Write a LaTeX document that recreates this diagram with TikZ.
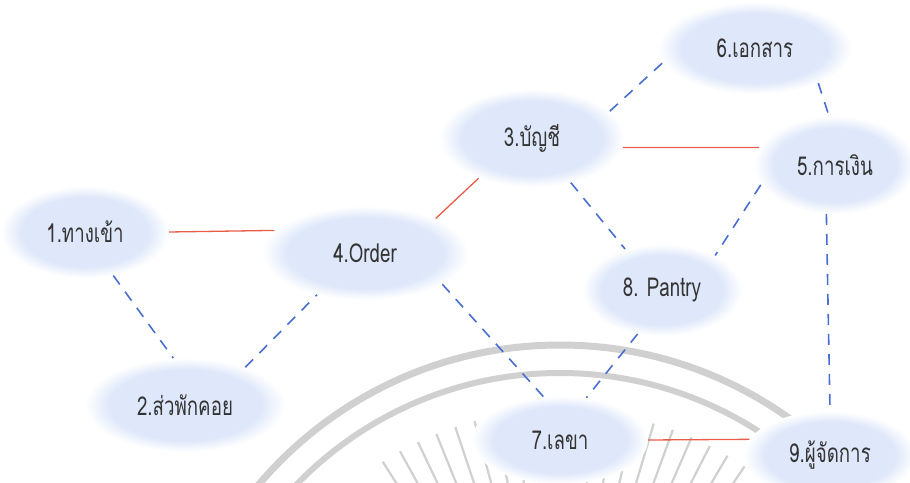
\documentclass[tikz,border=0pt]{standalone}
\usepackage{fontspec}
\newfontfamily\thaifont[Script=Thai,FakeStretch=0.72]{Loma}
\usetikzlibrary{positioning,shapes.geometric}
\definecolor{BlobLight}{RGB}{223,232,250}
\definecolor{LinkRed}{RGB}{232,92,72}
\definecolor{LinkBlue}{RGB}{72,110,210}
\definecolor{SealGray}{RGB}{208,208,208}
\pgfdeclareradialshading{blob}{\pgfpoint{0bp}{0bp}}{color(0bp)=(BlobLight); color(19bp)=(BlobLight); color(25bp)=(white); color(50bp)=(white)}
\tikzset{
  room/.style={
    ellipse,
    shade,
    shading=blob,
    minimum width=175pt,
    minimum height=88pt,
    inner sep=0pt,
    text=black!80,
    font=\thaifont\fontsize{26}{26}\selectfont
  },
  solidlink/.style={
    draw=LinkRed,
    line width=1.3pt
  },
  dashlink/.style={
    draw=LinkBlue,
    line width=1.6pt,
    dash pattern=on 11pt off 9pt
  },
  seal/.style={
    draw=SealGray,
    line width=7pt
  }
}

\begin{document}
\begin{tikzpicture}[x=1pt, y=1pt, on grid]
\useasboundingbox (0,0) rectangle (910,482);
% faint seal in the background
\begin{scope}
\clip (0,0) rectangle (910,482);
\draw[seal] (560,-258) circle (395);
\draw[seal, line width=6pt] (560,-258) circle (367);
\foreach \a in {56,59.5,...,124}
  \draw[SealGray, line width=2.2pt] (560,-258) ++(\a:230) -- ++(\a:100);
\end{scope}

\node[room, minimum width=168pt, minimum height=92pt] (entry) at (85,250) {1.ทางเข้า};
\node[room, minimum width=206pt, minimum height=94pt, below right=21pt and 280pt of entry] (order) {4.Order};
\node[room, minimum width=200pt, minimum height=94pt, below right=173pt and 100pt of entry] (waiting) {2.ส่วพักคอย};
\node[room, minimum width=185pt, minimum height=98pt, above right=115pt and 167pt of order] (account) {3.บัญชี};
\node[room, minimum width=194pt, minimum height=92pt, above right=90pt and 223pt of account] (document) {6.เอกสาร};
\node[room, minimum width=162pt, minimum height=98pt, below right=117pt and 80pt of document] (finance) {5.การเงิน};
\node[room, minimum width=160pt, minimum height=92pt, below left=125pt and 173pt of finance] (pantry) {8. Pantry};
\node[room, minimum width=176pt, minimum height=88pt, below left=150pt and 102pt of pantry] (secretary) {7.เลขา};
\node[room, minimum width=172pt, minimum height=88pt, below right=15pt and 270pt of secretary] (manager) {9.ผู้จัดการ};

\draw[solidlink] (entry.0) -- (order.166);
\draw[dashlink] (entry.-57) -- (waiting.104);
\draw[dashlink] (waiting.32) -- (order.221);
\draw[solidlink] (order.26) -- (account.217);
\draw[dashlink] (order.-22) -- (secretary.111);
\draw[dashlink] (account.19) -- (document.189);
\draw[solidlink] (account.-6) -- (finance.167);
\draw[dashlink] (account.-49) -- (pantry.132);
\draw[dashlink] (document.-29) -- (finance.97);
\draw[dashlink] (finance.195) -- (pantry.33);
\draw[dashlink] (finance.260) -- (manager.90);
\draw[dashlink] (pantry.241) -- (secretary.58);
\draw[solidlink] (secretary.0) -- (manager.169);
\end{tikzpicture}
\end{document}
